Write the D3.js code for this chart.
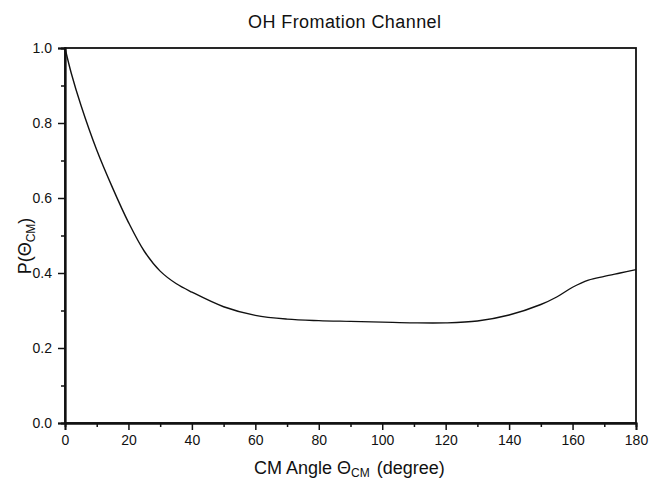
<!DOCTYPE html>
<html><head><meta charset="utf-8">
<script src="https://cdn.jsdelivr.net/npm/d3@7"></script>
<style>body{margin:0;background:#fff}svg{display:block}text{font-family:"Liberation Sans",Arial,sans-serif;fill:#111}</style>
</head><body><svg id="c" width="650" height="482"></svg>
<script>
const angles = [0,2,5,10,15,20,25,30,35,40,50,60,70,80,90,100,110,120,130,140,150,155,160,165,170,175,180];
const probs  = [1.0,0.932,0.848,0.728,0.627,0.535,0.458,0.405,0.372,0.349,0.310,0.287,0.277,0.273,0.271,0.269,0.267,0.267,0.272,0.288,0.316,0.336,0.362,0.381,0.391,0.400,0.409];
const xTicks = [0,20,40,60,80,100,120,140,160,180];
const yTicks = [0.0,0.2,0.4,0.6,0.8,1.0];
const xMinor = d3.range(10,180,20);
const yMinor = [0.1,0.3,0.5,0.7,0.9];

const svg = d3.select("#c");
const L=65,R=636,T=48,B=423;
const x = d3.scaleLinear().domain([0,180]).range([L,R]);
const y = d3.scaleLinear().domain([0,1]).range([B,T]);

svg.append("rect").attr("x",L).attr("y",T).attr("width",R-L).attr("height",B-T)
  .attr("fill","none").attr("stroke","#111").attr("stroke-width",1.8);

const xa = svg.append("g").attr("transform",`translate(0,${B})`)
  .call(d3.axisBottom(x).tickValues(xTicks).tickFormat(d3.format("d")).tickSize(7).tickPadding(5));
const xm = svg.append("g").attr("transform",`translate(0,${B})`)
  .call(d3.axisBottom(x).tickValues(xMinor).tickFormat("").tickSize(4));
const ya = svg.append("g").attr("transform",`translate(${L},0)`)
  .call(d3.axisLeft(y).tickValues(yTicks).tickFormat(d3.format(".1f")).tickSize(7).tickPadding(6));
const ym = svg.append("g").attr("transform",`translate(${L},0)`)
  .call(d3.axisLeft(y).tickValues(yMinor).tickFormat("").tickSize(4));
[xa,xm,ya,ym].forEach(g=>{
  g.select(".domain").attr("stroke","#111").attr("stroke-width",1.8);
  g.selectAll(".tick line").attr("stroke","#111").attr("stroke-width",1.5);
  g.selectAll(".tick text").style("font-size","14px").attr("fill","#111");
});

svg.append("path").datum(angles.map((a,i)=>[a,probs[i]]))
  .attr("fill","none").attr("stroke","#111").attr("stroke-width",1.4)
  .attr("d",d3.line().x(d=>x(d[0])).y(d=>y(d[1])).curve(d3.curveCatmullRom.alpha(0.5)));

svg.append("text").attr("x",248).attr("y",28).attr("textLength",193).attr("lengthAdjust","spacing")
  .style("font-size","18px").text("OH Fromation Channel");

const xl = svg.append("text").attr("x",254).attr("y",474).style("font-size","18px");
xl.append("tspan").text("CM Angle Θ");
xl.append("tspan").attr("dy",3).style("font-size","12px").text("CM");
xl.append("tspan").attr("dy",-3).attr("dx",2).text(" (degree)");

const yl = svg.append("text").attr("transform",`translate(31,246) rotate(-90)`).attr("text-anchor","middle").style("font-size","18px");
yl.append("tspan").text("P(Θ");
yl.append("tspan").attr("dy",4).style("font-size","12px").text("CM");
yl.append("tspan").attr("dy",-4).text(")");
</script></body></html>
